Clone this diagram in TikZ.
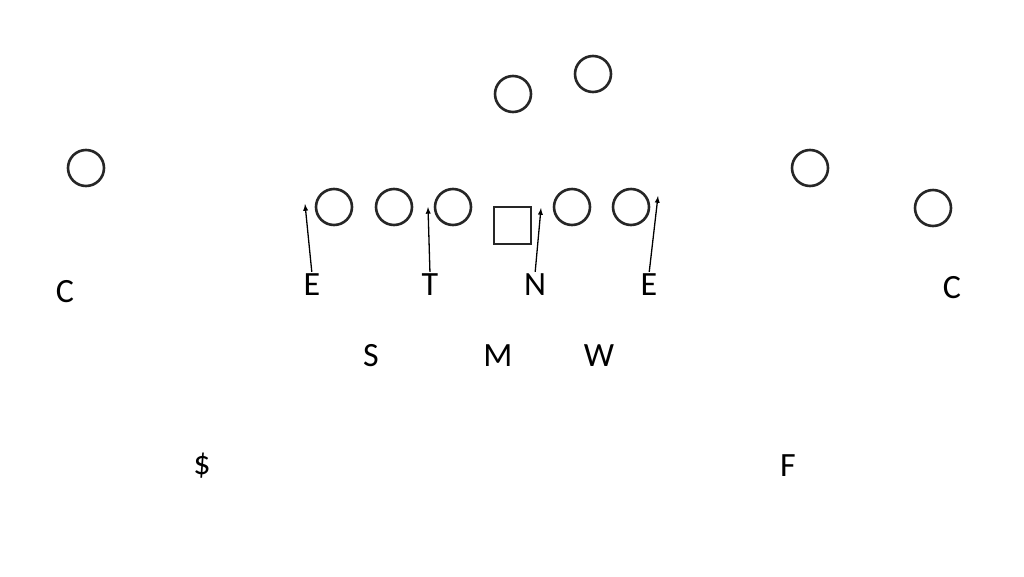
\documentclass[tikz,border=0pt]{standalone}
\usepackage{fontspec}
\setmainfont{Carlito}
\usepackage{tikz}
\usetikzlibrary{arrows,positioning}

\begin{document}
\begin{tikzpicture}[x=1pt,y=-1pt,
playernode/.style={circle, draw=black!85, line width=2.6pt, minimum size=36pt, inner sep=0pt},
centernode/.style={rectangle, draw=black!85, line width=2pt, minimum size=37pt, inner sep=0pt},
defnode/.style={inner sep=0pt, font=\fontsize{34}{40}\selectfont},
rushline/.style={->, >=latex, line width=1.3pt, shorten <=2pt}
]
\useasboundingbox (0,0) rectangle (1024,576);
% Offense
%Nodes
\node[playernode]        (wl)   at (86,168)   {};
\node[playernode]        (lt)   at (334,207)  {};
\node[playernode]        (lg)   at (394,207)  {};
\node[playernode]        (rt0)  at (453,207)  {};
\node[centernode]        (ctr)  at (512,225)  {};
\node[playernode]        (rg)   at (572,207)  {};
\node[playernode]        (rt)   at (631,207)  {};
\node[playernode]        (qb)   at (513,94)   {};
\node[playernode]        (rb)   at (593,74)   {};
\node[playernode]        (sl)   at (810,168)  {};
\node[playernode]        (wr)   at (933,208)  {};
% Defense
%Nodes
\node[defnode]           (cl)   at (65,292)   {C};
\node[defnode]           (el)   at (312,285)  {E};
\node[defnode]           (t)    at (430,285)  {T};
\node[defnode]           (n)    at (535,285)  {N};
\node[defnode]           (er)   at (649,285)  {E};
\node[defnode]           (cr)   at (952,288)  {C};
\node[defnode]           (s)    at (371,356)  {S};
\node[defnode]           (m)    at (498,356)  {M};
\node[defnode]           (w)    at (599,356)  {W};
\node[defnode]           (ss)   at (202,466)  {\$};
\node[defnode]           (f)    at (788,466)  {F};
%Lines
\coordinate (elgap)  at (305,204);
\coordinate (tgap)   at (428,207);
\coordinate (ngap)   at (541,208);
\coordinate (ergap)  at (658,196);
\draw[rushline] (el.north) -- (elgap);
\draw[rushline] (t.north)  -- (tgap);
\draw[rushline] (n.north)  -- (ngap);
\draw[rushline] (er.north) -- (ergap);

\end{tikzpicture}
\end{document}
